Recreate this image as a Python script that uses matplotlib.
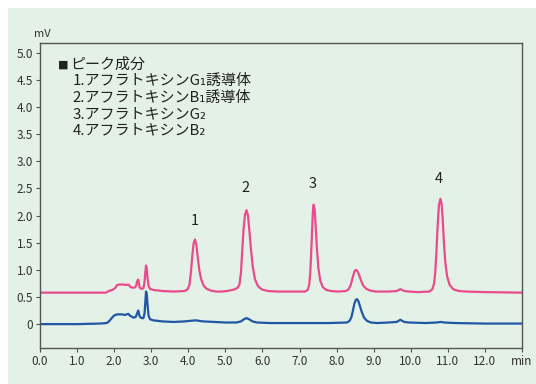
import matplotlib
matplotlib.use("Agg")
import matplotlib.pyplot as plt
from matplotlib.patches import Rectangle

plt.rcParams['font.family'] = ['Noto Sans CJK JP', 'DejaVu Sans']

# chromatogram traces (time [min], signal [mV])
pink_t = [0.0, 1.0, 1.78, 1.85, 1.95, 2.02, 2.08, 2.15, 2.25, 2.32, 2.38, 2.45,
          2.52, 2.57, 2.60, 2.62, 2.65, 2.69, 2.74, 2.79, 2.82, 2.84, 2.86, 2.88,
          2.90, 2.93, 2.97, 3.05, 3.3, 3.6,
          3.90, 3.98, 4.03, 4.07, 4.10, 4.14, 4.18, 4.22, 4.26, 4.30, 4.35, 4.42,
          4.50, 4.60, 4.75, 4.90, 5.05,
          5.25, 5.33, 5.38, 5.42, 5.45, 5.49, 5.53, 5.57, 5.61, 5.65, 5.69, 5.74,
          5.80, 5.88, 5.98, 6.15, 6.4, 6.8, 7.0,
          7.15, 7.22, 7.26, 7.29, 7.31, 7.34, 7.36, 7.38, 7.41, 7.44, 7.47, 7.51,
          7.56, 7.63, 7.72, 7.85, 8.05,
          8.25, 8.32, 8.38, 8.43, 8.48, 8.52, 8.56, 8.61, 8.66, 8.72, 8.80, 8.90,
          9.05, 9.4, 9.62, 9.72, 9.82, 9.95, 10.2,
          10.5, 10.58, 10.63, 10.66, 10.69, 10.72, 10.76, 10.80, 10.83, 10.86,
          10.89, 10.93, 10.98, 11.05, 11.15, 11.3, 11.5, 12.0, 13.0]
pink_v = [0.58, 0.58, 0.58, 0.61, 0.63, 0.66, 0.72, 0.73, 0.73, 0.72, 0.73, 0.68,
          0.67, 0.68, 0.72, 0.79, 0.82, 0.67, 0.65, 0.66, 0.78, 0.95, 1.08, 1.02,
          0.85, 0.70, 0.65, 0.63, 0.61, 0.60,
          0.61, 0.64, 0.72, 0.95, 1.20, 1.48, 1.56, 1.45, 1.20, 0.98, 0.82, 0.70,
          0.65, 0.62, 0.60, 0.60, 0.61,
          0.64, 0.67, 0.73, 0.95, 1.30, 1.75, 2.02, 2.10, 2.00, 1.70, 1.38, 1.05,
          0.82, 0.70, 0.64, 0.61, 0.60, 0.60, 0.60,
          0.60, 0.63, 0.72, 0.95, 1.25, 1.75, 2.08, 2.20, 2.10, 1.75, 1.38, 1.02,
          0.80, 0.68, 0.63, 0.61, 0.60,
          0.61, 0.64, 0.72, 0.85, 0.97, 1.00, 0.98, 0.90, 0.80, 0.71, 0.65, 0.62,
          0.60, 0.60, 0.61, 0.645, 0.61, 0.60, 0.59,
          0.60, 0.64, 0.75, 0.95, 1.30, 1.75, 2.20, 2.31, 2.22, 1.95,
          1.55, 1.15, 0.88, 0.72, 0.64, 0.61, 0.60, 0.59, 0.58]

blue_t = [0.0, 1.0, 1.6, 1.8, 1.86, 1.92, 2.0, 2.08, 2.2, 2.3, 2.38, 2.44,
          2.52, 2.58, 2.62, 2.65, 2.69, 2.74, 2.79, 2.82, 2.84, 2.86, 2.88, 2.90,
          2.93, 2.97, 3.05, 3.3, 3.6, 3.9, 4.05, 4.2, 4.4, 4.7, 5.0, 5.3, 5.42,
          5.50, 5.57, 5.64, 5.73, 5.85, 6.2, 7.0, 7.8,
          8.28, 8.35, 8.40, 8.44, 8.48, 8.52, 8.55, 8.59, 8.63, 8.68, 8.74, 8.82,
          8.92, 9.1, 9.4, 9.62, 9.72, 9.82,
          9.95, 10.4, 10.7, 10.8, 10.9, 11.2, 12.0, 13.0]
blue_v = [0.0, 0.0, 0.01, 0.02, 0.05, 0.10, 0.16, 0.18, 0.18, 0.17, 0.19, 0.15,
          0.12, 0.13, 0.20, 0.25, 0.14, 0.11, 0.11, 0.20, 0.40, 0.60, 0.55,
          0.35, 0.15, 0.09, 0.07, 0.05, 0.04, 0.05, 0.06, 0.07, 0.05, 0.04, 0.03,
          0.03, 0.05, 0.09, 0.11, 0.09, 0.05, 0.03, 0.02, 0.02, 0.02,
          0.03, 0.06, 0.13, 0.25, 0.38, 0.45, 0.46, 0.42, 0.33, 0.22, 0.12, 0.06,
          0.03, 0.02, 0.03, 0.04, 0.08, 0.04,
          0.03, 0.02, 0.03, 0.04, 0.03, 0.02, 0.01, 0.01]

peak_labels = ['1', '2', '3', '4']
peak_pos = [4.18, 5.53, 7.35, 10.76]
peak_lab_y = [1.78, 2.38, 2.45, 2.54]

legend_title = 'ピーク成分'
legend_items = ['1.アフラトキシンG₁誘導体', '2.アフラトキシンB₁誘導体',
                '3.アフラトキシンG₂', '4.アフラトキシンB₂']

xticks = [0, 1, 2, 3, 4, 5, 6, 7, 8, 9, 10, 11, 12, 13]
xticklabels = ['0.0', '1.0', '2.0', '3.0', '4.0', '5.0', '6.0', '7.0', '8.0',
               '9.0', '10.0', '11.0', '12.0', 'min']
yticks = [0, 0.5, 1.0, 1.5, 2.0, 2.5, 3.0, 3.5, 4.0, 4.5, 5.0]
yticklabels = ['0', '0.5', '1.0', '1.5', '2.0', '2.5', '3.0', '3.5', '4.0', '4.5', '5.0']

bg = '#e3f1e6'
txt = '#333333'

fig = plt.figure(figsize=(5.36, 3.84), dpi=100)
fig.patches.append(Rectangle((8 / 536, 0), 1, 1 - 8 / 384, transform=fig.transFigure,
                             facecolor=bg, edgecolor='none', zorder=-10))
ax = fig.add_axes([40 / 536, 36 / 384, 482 / 536, 305 / 384])
ax.set_facecolor(bg)

ax.plot(pink_t, pink_v, color='#ea4b8c', lw=1.6, solid_joinstyle='round')
ax.plot(blue_t, blue_v, color='#1f56a5', lw=1.6, solid_joinstyle='round')

for lab, x, y in zip(peak_labels, peak_pos, peak_lab_y):
    ax.text(x, y, lab, ha='center', va='bottom', fontsize=10.5, color='#222222')

# legend block
ax.text(0.037, 0.93, '■', transform=ax.transAxes, fontsize=8,
        color='#222222', va='center', ha='left', family='DejaVu Sans')
ax.text(0.062, 0.93, legend_title, transform=ax.transAxes, fontsize=10.8,
        color='#222222', va='center', ha='left')
for i, item in enumerate(legend_items):
    ax.text(0.068, 0.875 - i * 0.054, item, transform=ax.transAxes, fontsize=10.8,
            color='#222222', va='center', ha='left')

ax.set_xlim(0, 13)
ax.set_ylim(-0.44, 5.18)
ax.set_xticks(xticks)
ax.set_xticklabels(xticklabels)
ax.set_yticks(yticks)
ax.set_yticklabels(yticklabels)
ax.tick_params(axis='both', labelsize=8.5, colors='#555555', labelcolor=txt,
               length=3, width=0.8, pad=2)
for s in ax.spines.values():
    s.set_color('#555555')
    s.set_linewidth(1.0)

ax.text(0.004, 1.012, 'mV', transform=ax.transAxes, fontsize=8, color=txt,
        ha='center', va='bottom')

fig.savefig('out.png', dpi=100, facecolor='white')
